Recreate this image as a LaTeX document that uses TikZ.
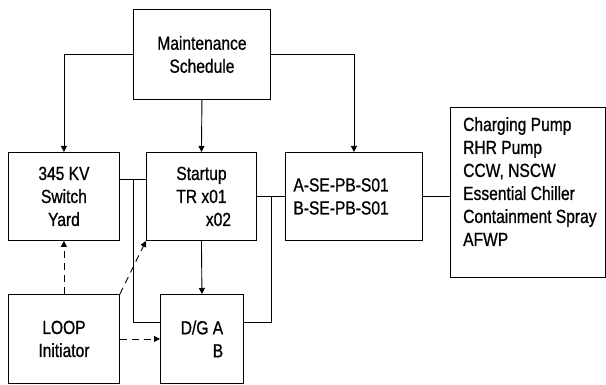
\documentclass[tikz,border=0pt]{standalone}
\usepackage{fontspec}
\setmainfont{Liberation Sans}[FakeStretch=0.82,FakeBold=0.8]
\usetikzlibrary{arrows.meta}
\begin{document}
\begin{tikzpicture}[x=1pt,y=-1pt,
  txt/.style={font=\fontsize{19}{23}\selectfont},
  box/.style={draw,line width=0.9pt,anchor=north west,inner sep=0pt,txt},
  wire/.style={line width=0.9pt},
  arr/.style={wire,-{Triangle[width=6pt,length=6pt]}},
  darr/.style={arr,dash pattern=on 7pt off 5pt}]
\useasboundingbox[fill=white] (0,0) rectangle (606,385);
\node[box,minimum width=137pt,minimum height=90pt,align=center] (maint) at (133,9) {Maintenance\\Schedule};
\node[box,minimum width=111pt,minimum height=88pt,align=center] (sw) at (8,152) {345 KV\\Switch\\Yard};
\node[box,minimum width=110pt,minimum height=88pt,align=center] (st) at (146,152) {Startup\\TR x01\\\hspace*{34pt}x02};
\node[box,minimum width=137pt,minimum height=88pt,align=left,text width=121pt,inner xsep=8pt] (ase) at (285,152) {A-SE-PB-S01\\B-SE-PB-S01};
\node[box,minimum width=155pt,minimum height=170pt] (chg) at (450,107) {};
\node[anchor=north west,inner sep=0pt,align=left,txt] (chgtxt) at (463,117) {Charging Pump\\RHR Pump\\CCW, NSCW\\Essential Chiller\\Containment Spray\\AFWP};
\node[box,minimum width=111pt,minimum height=89pt,align=center] (loop) at (8,294) {LOOP\\Initiator};
\node[box,minimum width=83pt,minimum height=89pt,align=right] (dg) at (160,294) {D/G A\\B};
\coordinate (j1) at (133,179);
\coordinate (j2) at (133,322);
\coordinate (j3) at (271,196);
\coordinate (j4) at (271,322);
\draw[arr] (maint.west) -| (sw.north);
\draw[arr] (maint.south) -- (st.north);
\draw[arr] (maint.east) -| (ase.north);
\draw[wire] (sw.east|-j1) -- (st.west|-j1);
\draw[wire] (j1) -- (j2) -- (dg.west|-j2);
\draw[wire] (st.east) -- (ase.west);
\draw[wire] (j3) -- (j4) -- (dg.east|-j4);
\draw[wire] (ase.east) -- (chg.west|-ase.east);
\draw[arr] (st.south) -- (dg.north);
\draw[darr] (loop.north) -- (sw.south);
\draw[darr] (loop.north east) -- (st.south west);
\draw[darr] (loop.east) -- (dg.west|-loop.east);
\end{tikzpicture}
\end{document}
